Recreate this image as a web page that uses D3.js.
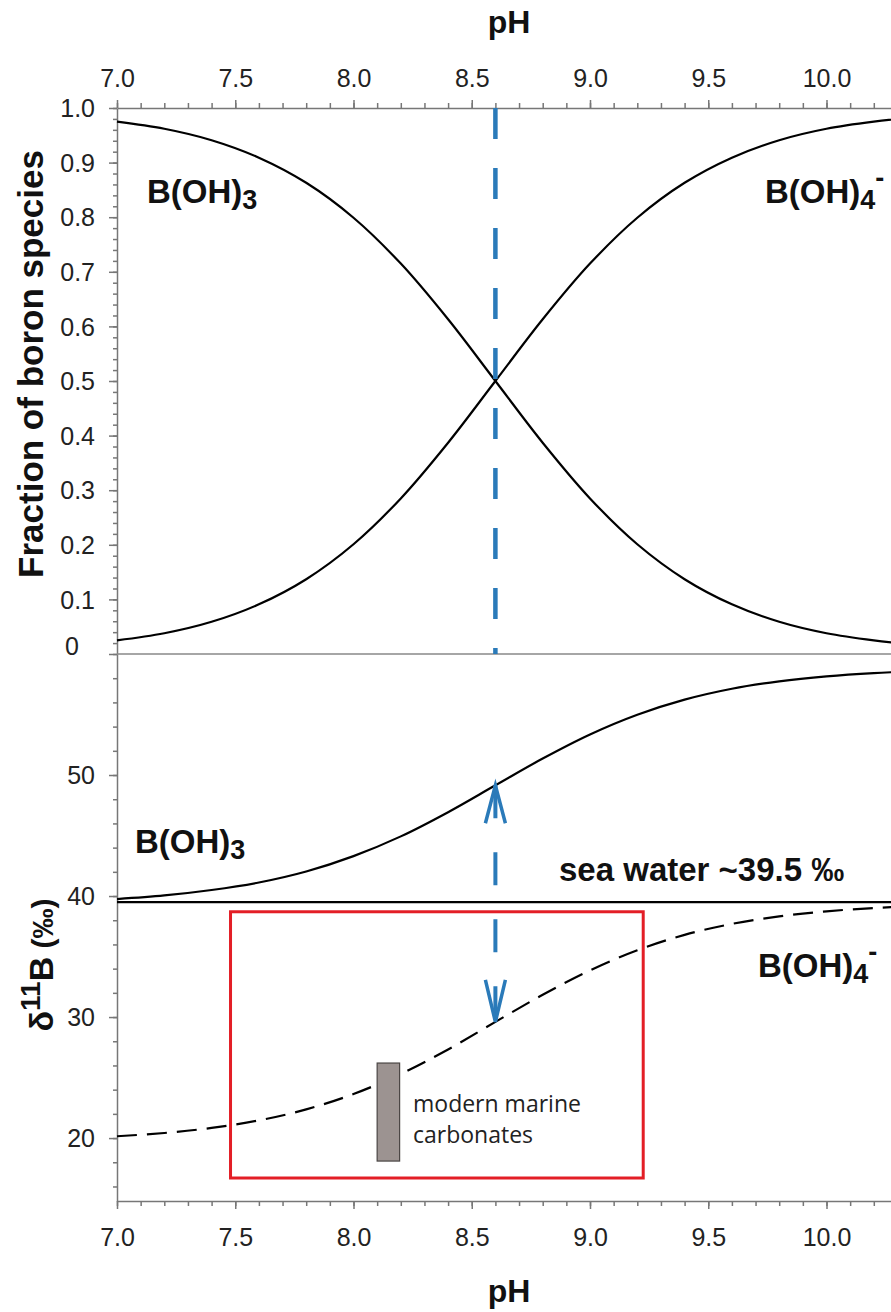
<!DOCTYPE html>
<html lang="en">
<head>
  <meta charset="UTF-8">
  <title>Boron speciation and isotopes vs pH</title>
  <script src="https://d3js.org/d3.v7.min.js"></script>
  <style>
    body { margin: 0; background: #fff; }
    svg { font-family: "Liberation Sans", Arial, sans-serif; }
    .axis path, .axis line { stroke: #777; stroke-width: 1.5; }
    .axis text { font-size: 25px; fill: #222; }
    .curve { fill: none; stroke: #000; stroke-width: 2.2; }
    .label { font-weight: bold; font-size: 33px; fill: #111; }
  </style>
</head>
<body>
<script>
  // pH grid the curves were read at
  const pH = [7.0, 7.2, 7.4, 7.6, 7.8, 8.0, 8.2, 8.4, 8.6, 8.8, 9.0, 9.2, 9.4, 9.6, 9.8, 10.0, 10.2, 10.4];

  // upper panel: fraction of boron species
  const fracBOH3 = [0.975, 0.962, 0.941, 0.909, 0.863, 0.799, 0.715, 0.613, 0.500, 0.387, 0.285, 0.201, 0.137, 0.091, 0.059, 0.038, 0.025, 0.016];
  const fracBOH4 = [0.025, 0.038, 0.059, 0.091, 0.137, 0.201, 0.285, 0.387, 0.500, 0.613, 0.715, 0.799, 0.863, 0.909, 0.941, 0.962, 0.975, 0.984];

  // lower panel: d11B (permil)
  const d11BOH3 = [39.75, 40.05, 40.50, 41.12, 42.03, 43.30, 44.93, 46.93, 49.15, 51.36, 53.35, 54.98, 56.23, 57.13, 57.74, 58.15, 58.42, 58.59];
  const d11BOH4 = [20.15, 20.42, 20.84, 21.46, 22.37, 23.64, 25.30, 27.32, 29.60, 31.84, 33.86, 35.52, 36.79, 37.70, 38.32, 38.74, 39.01, 39.19];

  const seaWater = 39.5;
  const pKa = 8.6;
  const redBox = { pH: [7.48, 9.225], d11B: [16.7, 38.7] };
  const carbonates = { pH: [8.10, 8.195], d11B: [18.1, 26.2] };

  // ticks
  const phTicks = [7.0, 7.5, 8.0, 8.5, 9.0, 9.5, 10.0];
  const fracTicks = [0, 0.1, 0.2, 0.3, 0.4, 0.5, 0.6, 0.7, 0.8, 0.9, 1.0];
  const d11BTicks = [20, 30, 40, 50];

  const W = 891, H = 1312;
  const svg = d3.select('body').append('svg').attr('width', W).attr('height', H);

  const x = d3.scaleLinear().domain([7, 10.3]).range([117, 117 + 3.3 * 236.5]);
  const yTop = d3.scaleLinear().domain([0, 1]).range([654, 108]);
  const yBot = d3.scaleLinear().domain([14.8, 60]).range([1201, 654]);

  const minorPH = d3.range(7.0, 10.31, 0.1);
  const minorFrac = d3.range(0, 1.001, 0.02);
  const minorD = d3.range(16, 59, 2);

  // --- axes ---
  function styleAxis(g) { g.attr('class', 'axis'); }

  // top pH axis
  svg.append('g').call(styleAxis).attr('transform', 'translate(0,108)')
    .call(d3.axisTop(x).tickValues(minorPH).tickSize(5).tickSizeOuter(0).tickFormat(''));
  svg.append('g').call(styleAxis).attr('transform', 'translate(0,108)')
    .call(d3.axisTop(x).tickValues(phTicks).tickSize(8).tickSizeOuter(0).tickFormat(d3.format('.1f')))
    .call(g => g.select('.domain').remove())
    .selectAll('text').attr('y', -21).attr('dy', 0);

  // bottom pH axis
  svg.append('g').call(styleAxis).attr('transform', 'translate(0,1201)')
    .call(d3.axisBottom(x).tickValues(minorPH).tickSize(5).tickSizeOuter(0).tickFormat(''));
  svg.append('g').call(styleAxis).attr('transform', 'translate(0,1201)')
    .call(d3.axisBottom(x).tickValues(phTicks).tickSize(8).tickSizeOuter(0).tickFormat(d3.format('.1f')))
    .call(g => g.select('.domain').remove())
    .selectAll('text').attr('y', 45).attr('dy', 0);

  // upper fraction axis
  svg.append('g').call(styleAxis).attr('transform', 'translate(117,0)')
    .call(d3.axisLeft(yTop).tickValues(minorFrac).tickSize(4).tickSizeOuter(0).tickFormat(''));
  const fracAxis = svg.append('g').call(styleAxis).attr('transform', 'translate(117,0)')
    .call(d3.axisLeft(yTop).tickValues(fracTicks).tickSize(8).tickSizeOuter(0)
      .tickFormat(d => d === 0 ? '0' : d3.format('.1f')(d)));
  fracAxis.select('.domain').remove();
  fracAxis.selectAll('text').attr('x', -22).attr('dy', '0.35em');
  fracAxis.selectAll('.tick').filter(d => d === 0).select('text').attr('x', -38).attr('y', -8);

  // lower d11B axis
  svg.append('g').call(styleAxis).attr('transform', 'translate(117,0)')
    .call(d3.axisLeft(yBot).tickValues(minorD).tickSize(4).tickSizeOuter(0).tickFormat(''));
  const dAxis = svg.append('g').call(styleAxis).attr('transform', 'translate(117,0)')
    .call(d3.axisLeft(yBot).tickValues(d11BTicks).tickSize(8).tickSizeOuter(0));
  dAxis.select('.domain').remove();
  dAxis.selectAll('text').attr('x', -22).attr('dy', '0.35em');

  // panel divider (fraction = 0)
  svg.append('line')
    .attr('x1', x(7)).attr('x2', W).attr('y1', yTop(0)).attr('y2', yTop(0))
    .attr('stroke', '#888').attr('stroke-width', 1.5);

  // --- axis titles ---
  svg.append('text').attr('class', 'label').style('font-size', '32px')
    .attr('x', 509).attr('y', 33).attr('text-anchor', 'middle').text('pH');
  svg.append('text').attr('class', 'label').style('font-size', '32px')
    .attr('x', 509).attr('y', 1302).attr('text-anchor', 'middle').text('pH');

  svg.append('text').attr('class', 'label').style('font-size', '35px')
    .attr('transform', 'translate(43,364) rotate(-90)')
    .attr('text-anchor', 'middle').text('Fraction of boron species');

  const dTitle = svg.append('text').attr('class', 'label')
    .attr('transform', 'translate(53,965) rotate(-90)').attr('text-anchor', 'middle');
  dTitle.append('tspan').style('font-size', '34px').text('δ');
  dTitle.append('tspan').style('font-size', '28px').attr('dy', -13).text('11');
  dTitle.append('tspan').style('font-size', '34px').attr('dy', 13).text('B');
  dTitle.append('tspan').style('font-size', '30px').text(' (‰)');

  // --- red box ---
  svg.append('rect')
    .attr('x', x(redBox.pH[0])).attr('width', x(redBox.pH[1]) - x(redBox.pH[0]))
    .attr('y', yBot(redBox.d11B[1])).attr('height', yBot(redBox.d11B[0]) - yBot(redBox.d11B[1]))
    .attr('fill', 'none').attr('stroke', '#e31e26').attr('stroke-width', 3);

  // --- curves ---
  const rows = pH.map((p, i) => ({ p, f3: fracBOH3[i], f4: fracBOH4[i], d3: d11BOH3[i], d4: d11BOH4[i] }));
  const lineTop = key => d3.line().x(d => x(d.p)).y(d => yTop(d[key])).curve(d3.curveCatmullRom);
  const lineBot = key => d3.line().x(d => x(d.p)).y(d => yBot(d[key])).curve(d3.curveCatmullRom);

  svg.append('path').datum(rows).attr('class', 'curve').attr('d', lineTop('f3'));
  svg.append('path').datum(rows).attr('class', 'curve').attr('d', lineTop('f4'));
  svg.append('path').datum(rows).attr('class', 'curve').attr('d', lineBot('d3'));
  svg.append('path').datum(rows).attr('class', 'curve').attr('d', lineBot('d4'))
    .attr('stroke-dasharray', '20,10');

  // sea water line
  svg.append('line')
    .attr('x1', x(7)).attr('x2', W).attr('y1', yBot(seaWater)).attr('y2', yBot(seaWater))
    .attr('stroke', '#000').attr('stroke-width', 2.2);

  // modern marine carbonates bar
  svg.append('rect')
    .attr('x', x(carbonates.pH[0])).attr('width', x(carbonates.pH[1]) - x(carbonates.pH[0]))
    .attr('y', yBot(carbonates.d11B[1])).attr('height', yBot(carbonates.d11B[0]) - yBot(carbonates.d11B[1]))
    .attr('fill', '#9c9391').attr('stroke', '#4a4544').attr('stroke-width', 1.2);

  // --- blue pKa markers ---
  const blue = '#2a7ab9';
  const iK = pH.indexOf(pKa);
  svg.append('line')
    .attr('x1', x(pKa)).attr('x2', x(pKa)).attr('y1', yTop(1)).attr('y2', yTop(0))
    .attr('stroke', blue).attr('stroke-width', 4.5).attr('stroke-dasharray', '31,29');

  const yUp = yBot(d11BOH3[iK]), yDn = yBot(d11BOH4[iK]), xa = x(pKa);
  svg.append('line')
    .attr('x1', xa).attr('x2', xa).attr('y1', yUp).attr('y2', yDn)
    .attr('stroke', blue).attr('stroke-width', 4).attr('stroke-dasharray', '33,34');
  svg.append('path')
    .attr('d', `M${xa - 10},${yUp + 38}L${xa},${yUp}L${xa + 10},${yUp + 38}`)
    .attr('fill', 'none').attr('stroke', blue).attr('stroke-width', 3.5);
  svg.append('path')
    .attr('d', `M${xa - 10},${yDn - 42}L${xa},${yDn}L${xa + 10},${yDn - 42}`)
    .attr('fill', 'none').attr('stroke', blue).attr('stroke-width', 3.5);

  // --- annotations ---
  function species(xp, yp, sub, sup) {
    const t = svg.append('text').attr('class', 'label').attr('x', xp).attr('y', yp);
    t.append('tspan').text('B(OH)');
    t.append('tspan').style('font-size', '27px').attr('dy', 6).text(sub);
    if (sup) t.append('tspan').style('font-size', '27px').attr('dy', -22).text(sup);
  }
  species(147, 203, '3');
  species(765, 203, '4', '-');
  species(135, 853, '3');
  species(758, 977, '4', '-');

  svg.append('text').attr('class', 'label').attr('x', 559).attr('y', 881)
    .text('sea water ~39.5 ‰');

  svg.append('text').attr('x', 413).attr('y', 1112)
    .style('font-family', '"Open Sans", sans-serif').style('font-size', '23px').attr('fill', '#222')
    .text('modern marine');
  svg.append('text').attr('x', 413).attr('y', 1143)
    .style('font-family', '"Open Sans", sans-serif').style('font-size', '23px').attr('fill', '#222')
    .text('carbonates');
</script>
</body>
</html>
